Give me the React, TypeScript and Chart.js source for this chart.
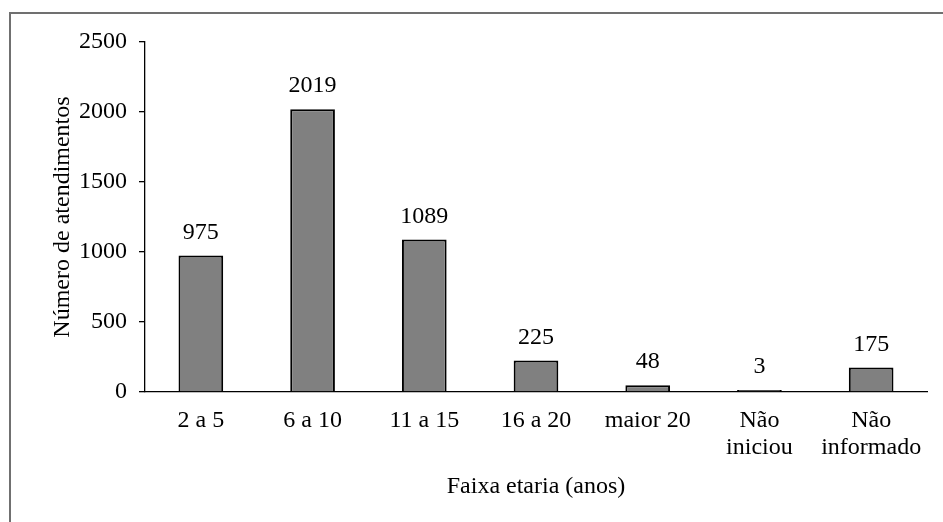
import React, { useEffect, useRef } from "react";
import { Chart, registerables } from "chart.js";

Chart.register(...registerables);

const categories: (string | string[])[] = [
  "2 a 5",
  "6 a 10",
  "11 a 15",
  "16 a 20",
  "maior 20",
  ["Não", "iniciou"],
  ["Não", "informado"],
];
const values: number[] = [975, 2019, 1089, 225, 48, 3, 175];
const yTicks: number[] = [0, 500, 1000, 1500, 2000, 2500];

const FONT = "'Liberation Serif', 'Times New Roman', serif";
const FS = 24;

const dataLabels = {
  id: "dataLabels",
  afterDatasetsDraw(chart: any) {
    const ctx = chart.ctx;
    const meta = chart.getDatasetMeta(0);
    ctx.save();
    ctx.font = `${FS}px ${FONT}`;
    ctx.fillStyle = "#000";
    ctx.textAlign = "center";
    ctx.textBaseline = "alphabetic";
    meta.data.forEach((bar: any, i: number) => {
      ctx.fillText(String(values[i]), bar.x, bar.y - 17);
    });
    ctx.restore();
  },
};

export default function App() {
  const ref = useRef<HTMLCanvasElement | null>(null);
  useEffect(() => {
    if (!ref.current) return;
    const chart = new Chart(ref.current, {
      type: "bar",
      data: {
        labels: categories,
        datasets: [
          {
            data: values,
            backgroundColor: "#808080",
            borderColor: "#000000",
            borderWidth: 2,
            barPercentage: 0.4,
            categoryPercentage: 1,
            minBarLength: 2,
          },
        ],
      },
      options: {
        responsive: false,
        animation: false,
        events: [],
        layout: { padding: { top: 42, right: 16, left: 0, bottom: 0 } },
        plugins: { legend: { display: false }, tooltip: { enabled: false } },
        scales: {
          x: {
            grid: { display: false, drawTicks: false },
            border: { display: true, color: "#000", width: 1.3 },
            ticks: {
              color: "#000",
              font: { family: FONT, size: FS, lineHeight: 1.125 },
              padding: 15,
              maxRotation: 0,
              autoSkip: false,
            },
            title: {
              display: true,
              text: "Faixa etaria (anos)",
              color: "#000",
              font: { family: FONT, size: FS },
              padding: { top: 0, bottom: 21 },
            },
            afterFit: (s: any) => {
              s.height = 130;
            },
          },
          y: {
            min: 0,
            max: 2500,
            afterBuildTicks: (s: any) => {
              s.ticks = yTicks.map((v) => ({ value: v }));
            },
            grid: {
              drawOnChartArea: false,
              drawTicks: true,
              tickLength: 6,
              color: "#000",
              lineWidth: 1.3,
            },
            border: { display: true, color: "#000", width: 1.3 },
            ticks: {
              color: "#000",
              font: { family: FONT, size: FS },
              padding: 12,
              callback: (v: any) => String(v),
            },
            title: {
              display: true,
              text: "Número de atendimentos",
              color: "#000",
              font: { family: FONT, size: FS },
              padding: { top: 48, bottom: 0 },
            },
            afterFit: (s: any) => {
              s.width = 145;
            },
          },
        },
      },
      plugins: [dataLabels],
    });
    return () => chart.destroy();
  }, []);

  return (
    <div style={{ position: "fixed", left: 0, top: 0, width: 943, height: 522, background: "#fff", overflow: "hidden" }}>
      <div
        style={{
          position: "absolute",
          left: 9,
          top: 12,
          width: 2000,
          height: 2000,
          borderLeft: "2px solid #707070",
          borderTop: "2px solid #707070",
        }}
      />
      <canvas ref={ref} width={943} height={522} style={{ position: "absolute", left: 0, top: 0 }} />
    </div>
  );
}
